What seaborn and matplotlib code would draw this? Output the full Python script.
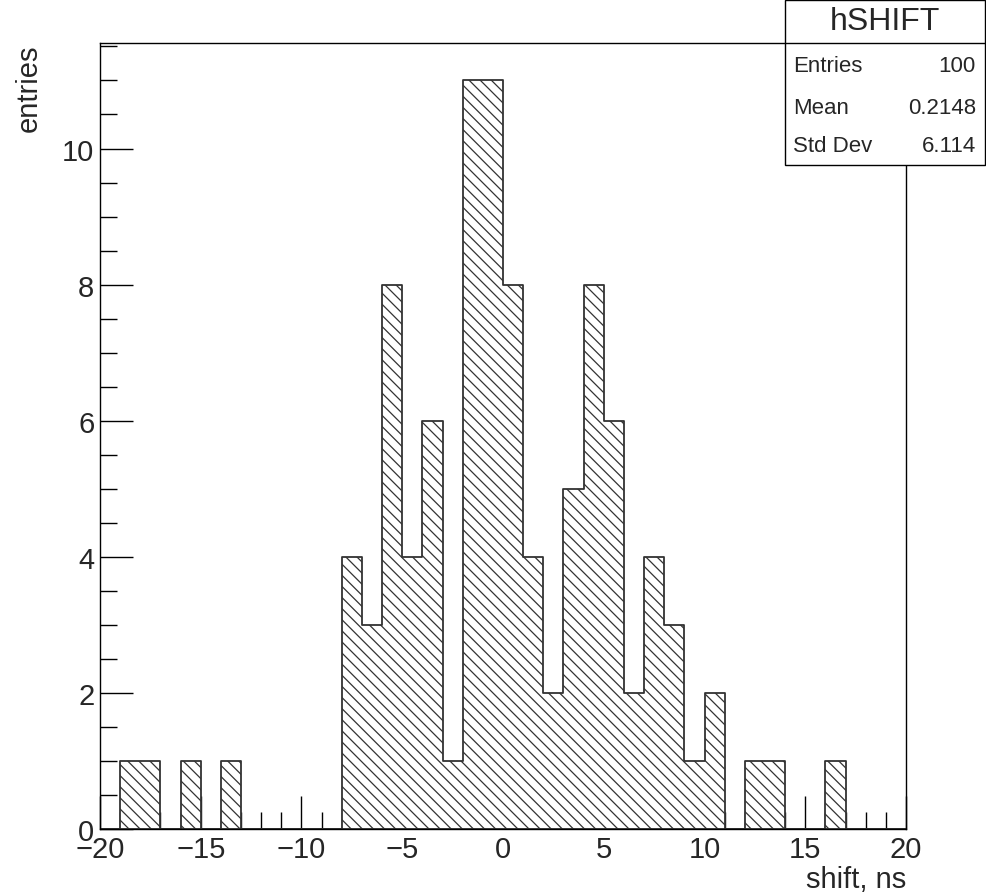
import numpy as np
import pandas as pd
import matplotlib
matplotlib.use("Agg")
import matplotlib.pyplot as plt
import seaborn as sns
from matplotlib.ticker import MultipleLocator

# histogram contents, 1 ns bins from -20 to 20
bin_edges = list(range(-20, 21))
bin_centers = [e + 0.5 for e in bin_edges[:-1]]
counts = [0, 1, 1, 0, 1, 0, 1, 0, 0, 0,
          0, 0, 4, 3, 8, 4, 6, 1, 11, 11,
          8, 4, 2, 5, 8, 6, 2, 4, 3, 1,
          2, 0, 1, 1, 0, 0, 1, 0, 0, 0]

hist_name = "hSHIFT"
stat_names = ["Entries", "Mean", "Std Dev"]
stat_values = ["100", "0.2148", "6.114"]

df = pd.DataFrame({"shift": bin_centers, "n": counts})

sns.set_theme(style="white")
plt.rcParams["font.family"] = ["Liberation Sans", "DejaVu Sans"]
plt.rcParams["hatch.linewidth"] = 0.9

fig = plt.figure(figsize=(9.86, 8.95), dpi=100)
ax = fig.add_axes([0.1014, 0.0726, 0.8175, 0.8782])

sns.histplot(data=df, x="shift", weights="n", bins=bin_edges, element="step",
             fill=True, facecolor="white", edgecolor="#333333", alpha=1,
             hatch="\\" * 3, linewidth=1.3, ax=ax)

ax.set_xlim(-20, 20)
ax.set_ylim(0, 11.55)
for s in ax.spines.values():
    s.set_color("black")
    s.set_linewidth(1.0)

ax.xaxis.set_major_locator(MultipleLocator(5))
ax.xaxis.set_minor_locator(MultipleLocator(1))
ax.yaxis.set_major_locator(MultipleLocator(2))
ax.yaxis.set_minor_locator(MultipleLocator(0.5))
ax.tick_params(which="both", direction="in", top=False, right=False,
               bottom=True, left=True, color="black", width=1.0)
ax.tick_params(which="major", length=24, labelsize=21, pad=4)
ax.tick_params(which="minor", length=12)

ax.set_xlabel("shift, ns", fontsize=21, loc="right", labelpad=2)
ax.set_ylabel("entries", fontsize=21, loc="top", labelpad=14)

# stats box in the top-right corner
x0, x1 = 785 / 986, 985 / 986
y_top, y_sep, y_bot = 1 - 1 / 895, 1 - 44 / 895, 1 - 166 / 895
fig.patches.append(plt.Rectangle((x0, y_bot), x1 - x0, y_top - y_bot,
                                 transform=fig.transFigure, facecolor="white",
                                 edgecolor="black", linewidth=1.0, zorder=5))
fig.add_artist(plt.Line2D([x0, x1], [y_sep, y_sep], transform=fig.transFigure,
                          color="black", linewidth=1.0, zorder=6))
fig.text((x0 + x1) / 2, (y_top + y_sep) / 2, hist_name, ha="center", va="center",
         fontsize=23, zorder=7)
row_y = [67, 108, 147]
for name, val, py in zip(stat_names, stat_values, row_y):
    fig.text(x0 + 8 / 986, 1 - py / 895, name, ha="left", va="center",
             fontsize=16, zorder=7)
    fig.text(x1 - 9 / 986, 1 - py / 895, val, ha="right", va="center",
             fontsize=16, zorder=7)

fig.savefig("out.png", dpi=100)
